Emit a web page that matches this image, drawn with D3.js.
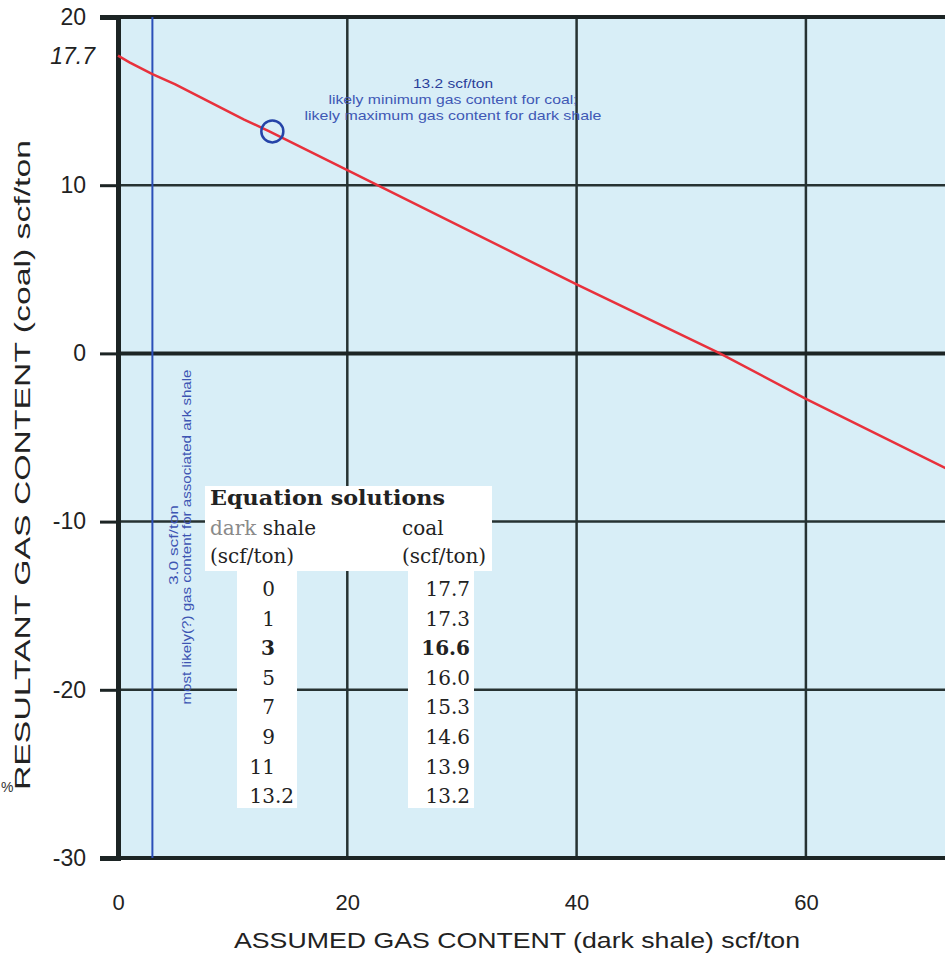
<!DOCTYPE html>
<html>
<head>
<meta charset="utf-8">
<script src="https://cdn.jsdelivr.net/npm/d3@7"></script>
<style>
  body { margin: 0; background: #fff; }
  svg { display: block; }
</style>
</head>
<body>
<div id="chart"></div>
<script>
const width = 945;
const height = 953;

// Equation solutions (table)
const shaleValues = ['0', '1', '3', '5', '7', '9', '11', '13.2'];
const coalValues = ['17.7', '17.3', '16.6', '16.0', '15.3', '14.6', '13.9', '13.2'];
const boldRow = 2;

// red line
const lineShale = [0, 1, 3, 5, 7, 9, 11, 13.2, 20, 40, 52.5, 60, 73];
const lineCoal = [17.7, 17.3, 16.6, 16.0, 15.3, 14.6, 13.9, 13.2, 10.9, 4.1, 0, -2.7, -7.1];

const xTicks = [0, 20, 40, 60];
const yTicks = [20, 10, 0, -10, -20, -30];
const xGrid = [20, 40, 60];
const yGrid = [10, -10, -20];

const markerPoint = [13.2, 13.2];
const shaleLine = 3;

const sans = '"Liberation Sans", Arial, sans-serif';
const serif = '"DejaVu Serif", serif';

const margin = { left: 118, top: 17, bottom: 858 };

const x = d3.scaleLinear().domain([0, 80]).range([margin.left, margin.left + 80 * 11.465]);
const y = d3.scaleLinear().domain([-30, 20]).range([margin.bottom, margin.top]);

const svg = d3
  .select('#chart')
  .append('svg')
  .attr('width', width)
  .attr('height', height)
  .attr('font-family', sans);

// plot background
svg
  .append('rect')
  .attr('x', x(0))
  .attr('y', y(20))
  .attr('width', x(80) - x(0))
  .attr('height', y(-30) - y(20))
  .attr('fill', '#d8eef7');

// grid
svg
  .selectAll('.vgrid')
  .data(xGrid)
  .enter()
  .append('line')
  .attr('x1', d => x(d))
  .attr('x2', d => x(d))
  .attr('y1', y(20))
  .attr('y2', y(-30))
  .attr('stroke', '#263232')
  .attr('stroke-width', 2.5);

svg
  .selectAll('.hgrid')
  .data(yGrid)
  .enter()
  .append('line')
  .attr('x1', x(0))
  .attr('x2', x(80))
  .attr('y1', d => y(d))
  .attr('y2', d => y(d))
  .attr('stroke', '#263232')
  .attr('stroke-width', 2.5);

// zero line, top and bottom frame
[0, 20, -30].forEach(v => {
  svg
    .append('line')
    .attr('x1', x(0))
    .attr('x2', x(80))
    .attr('y1', y(v))
    .attr('y2', y(v))
    .attr('stroke', '#1c2424')
    .attr('stroke-width', 4);
});

// y axis
const yAxis = svg
  .append('g')
  .attr('transform', `translate(${x(0)},0)`)
  .call(
    d3
      .axisLeft(y)
      .tickValues(yTicks)
      .tickSize(18)
      .tickPadding(14)
      .tickFormat(d => String(d))
  );
yAxis.select('.domain').attr('stroke', '#1c2424').attr('stroke-width', 5);
yAxis.selectAll('.tick line').attr('stroke', '#1c2424').attr('stroke-width', 3);
yAxis
  .selectAll('.tick text')
  .attr('font-family', sans)
  .attr('font-size', 23)
  .attr('fill', '#222');

svg
  .append('text')
  .attr('x', 95)
  .attr('y', y(17.7))
  .attr('dy', '0.35em')
  .attr('text-anchor', 'end')
  .attr('font-size', 23)
  .attr('font-style', 'italic')
  .attr('fill', '#222')
  .text('17.7');

// x axis
const xAxis = svg
  .append('g')
  .attr('transform', `translate(0,${y(-30)})`)
  .call(d3.axisBottom(x).tickValues(xTicks).tickSize(0).tickPadding(36));
xAxis.select('.domain').remove();
xAxis
  .selectAll('.tick text')
  .attr('font-family', sans)
  .attr('font-size', 22)
  .attr('fill', '#222');

// axis titles
svg
  .append('text')
  .attr('x', 517)
  .attr('y', 948)
  .attr('text-anchor', 'middle')
  .attr('font-size', 22)
  .attr('fill', '#222')
  .attr('textLength', 566)
  .attr('lengthAdjust', 'spacingAndGlyphs')
  .text('ASSUMED GAS CONTENT (dark shale) scf/ton');

svg
  .append('text')
  .attr('transform', 'translate(30,465) rotate(-90)')
  .attr('text-anchor', 'middle')
  .attr('font-size', 22)
  .attr('fill', '#222')
  .attr('textLength', 650)
  .attr('lengthAdjust', 'spacingAndGlyphs')
  .text('RESULTANT GAS CONTENT (coal) scf/ton');

svg
  .append('text')
  .attr('x', 1)
  .attr('y', 792)
  .attr('font-size', 14)
  .attr('fill', '#333')
  .text('%');

// vertical blue line at 3.0 scf/ton
svg
  .append('line')
  .attr('x1', x(shaleLine))
  .attr('x2', x(shaleLine))
  .attr('y1', y(20))
  .attr('y2', y(-30))
  .attr('stroke', '#2b4fb8')
  .attr('stroke-width', 2);

// red line
const line = d3
  .line()
  .x(d => x(d[0]))
  .y(d => y(d[1]));

svg
  .append('path')
  .datum(lineShale.map((s, i) => [s, lineCoal[i]]))
  .attr('d', line)
  .attr('fill', 'none')
  .attr('stroke', '#e8313c')
  .attr('stroke-width', 2.5);

// marker circle
svg
  .append('circle')
  .attr('cx', x(markerPoint[0]) + 3)
  .attr('cy', y(markerPoint[1]))
  .attr('r', 11)
  .attr('fill', 'none')
  .attr('stroke', '#2543a8')
  .attr('stroke-width', 2.5);

// top annotation
const noteLines = [
  { text: '13.2 scf/ton', y: 88, len: 80, color: '#2a3f9a' },
  { text: 'likely minimum gas content for coal;', y: 104, len: 249, color: '#4058b5' },
  { text: 'likely maximum gas content for dark shale', y: 120, len: 297, color: '#4058b5' }
];
svg
  .selectAll('.note')
  .data(noteLines)
  .enter()
  .append('text')
  .attr('x', 453)
  .attr('y', d => d.y)
  .attr('text-anchor', 'middle')
  .attr('font-size', 13.5)
  .attr('fill', d => d.color)
  .attr('textLength', d => d.len)
  .attr('lengthAdjust', 'spacingAndGlyphs')
  .text(d => d.text);

// vertical annotation
const vnote = svg
  .append('g')
  .attr('transform', `translate(${x(shaleLine)},0)`)
  .attr('font-size', 13.5)
  .attr('fill', '#3d55b3');
vnote
  .append('text')
  .attr('transform', 'translate(26,545) rotate(-90)')
  .attr('text-anchor', 'middle')
  .attr('textLength', 80)
  .attr('lengthAdjust', 'spacingAndGlyphs')
  .text('3.0 scf/ton');
vnote
  .append('text')
  .attr('transform', 'translate(39,537) rotate(-90)')
  .attr('text-anchor', 'middle')
  .attr('textLength', 335)
  .attr('lengthAdjust', 'spacingAndGlyphs')
  .text('most likely(?) gas content for associated ark shale');

// equation table
const table = svg.append('g').attr('font-family', serif).attr('fill', '#222');
table.append('rect').attr('x', 205).attr('y', 486).attr('width', 287).attr('height', 85).attr('fill', '#fff');
table.append('rect').attr('x', 237).attr('y', 570).attr('width', 60).attr('height', 238).attr('fill', '#fff');
table.append('rect').attr('x', 408).attr('y', 570).attr('width', 66).attr('height', 238).attr('fill', '#fff');

table
  .append('text')
  .attr('x', 210)
  .attr('y', 505)
  .attr('font-size', 21)
  .attr('font-weight', 'bold')
  .attr('textLength', 235)
  .attr('lengthAdjust', 'spacingAndGlyphs')
  .text('Equation solutions');

const head = table.append('text').attr('x', 210).attr('y', 535).attr('font-size', 20);
head.append('tspan').attr('fill', '#8a8a8a').text('dark');
head.append('tspan').text(' shale');
table.append('text').attr('x', 210).attr('y', 563).attr('font-size', 20).text('(scf/ton)');
table.append('text').attr('x', 402).attr('y', 535).attr('font-size', 20).text('coal');
table.append('text').attr('x', 402).attr('y', 563).attr('font-size', 20).text('(scf/ton)');

const rowY = i => 596 + i * 29.6;

shaleValues.forEach((v, i) => {
  const parts = v.split('.');
  const weight = i === boldRow ? 'bold' : 'normal';
  table
    .append('text')
    .attr('x', 275)
    .attr('y', rowY(i))
    .attr('text-anchor', 'end')
    .attr('font-size', 20)
    .attr('font-weight', weight)
    .text(parts[0]);
  if (parts[1]) {
    table
      .append('text')
      .attr('x', 275)
      .attr('y', rowY(i))
      .attr('font-size', 20)
      .attr('font-weight', weight)
      .text('.' + parts[1]);
  }
});

table
  .selectAll('.coal')
  .data(coalValues)
  .enter()
  .append('text')
  .attr('x', 470)
  .attr('y', (d, i) => rowY(i))
  .attr('text-anchor', 'end')
  .attr('font-size', 20)
  .attr('font-weight', (d, i) => (i === boldRow ? 'bold' : 'normal'))
  .text(d => d);
</script>
</body>
</html>
